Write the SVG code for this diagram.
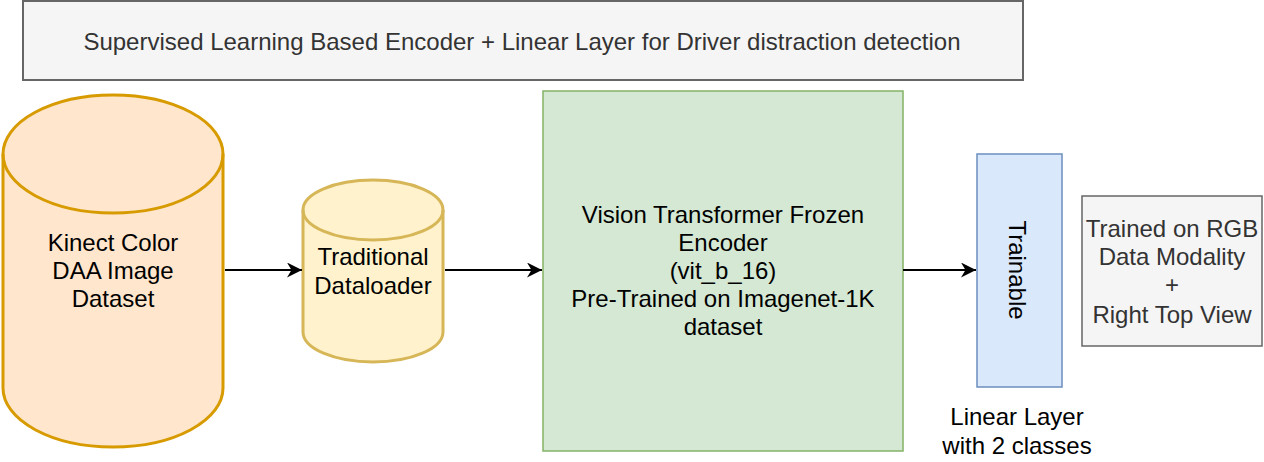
<svg xmlns="http://www.w3.org/2000/svg" width="1264" height="462" viewBox="0 0 1264 462">
<style>
text{font-family:"Liberation Sans",Arial,sans-serif;font-size:24px;text-anchor:middle;dominant-baseline:central}
.dk{fill:#000}
.gr{fill:#333}
.edge{stroke:#000;stroke-width:2;fill:none}
</style>
<defs>
<marker id="arr" viewBox="0 0 10 10" refX="10" refY="5" markerWidth="17" markerHeight="15" markerUnits="userSpaceOnUse" orient="auto">
<path d="M0,0 L10,5 L0,10 L3,5 Z" fill="#000"/>
</marker>
</defs>
<g id="title">
<rect x="23" y="1" width="1000" height="79" fill="#f5f5f5" stroke="#666" stroke-width="2"/>
<text x="522" y="41" class="gr">Supervised Learning Based Encoder + Linear Layer for Driver distraction detection</text>
</g>
<g id="dataset">
<path d="M3,154 A110,59 0 0 1 223,154 L223,388 A110,59 0 0 1 3,388 Z" fill="#ffe6cc" stroke="#d79b00" stroke-width="3"/>
<path d="M3,154 A110,59 0 0 0 223,154" fill="none" stroke="#d79b00" stroke-width="3"/>
<text x="113" y="242" class="dk">Kinect Color</text>
<text x="113" y="270" class="dk">DAA Image</text>
<text x="113" y="298" class="dk">Dataset</text>
</g>
<g id="dataloader">
<path d="M303,210 A70,30 0 0 1 443,210 L443,332 A70,30 0 0 1 303,332 Z" fill="#fff2cc" stroke="#d6b656" stroke-width="3"/>
<path d="M303,210 A70,30 0 0 0 443,210" fill="none" stroke="#d6b656" stroke-width="3"/>
<text x="373" y="256" class="dk">Traditional</text>
<text x="373" y="285" class="dk">Dataloader</text>
</g>
<g id="encoder">
<rect x="543" y="91" width="360" height="360" fill="#d5e8d4" stroke="#82b366" stroke-width="1.5"/>
<text x="723" y="214" class="dk">Vision Transformer Frozen</text>
<text x="723" y="242" class="dk">Encoder</text>
<text x="723" y="270" class="dk">(vit_b_16)</text>
<text x="723" y="298" class="dk">Pre-Trained on Imagenet-1K</text>
<text x="723" y="326" class="dk">dataset</text>
</g>
<g id="linear">
<rect x="977" y="154" width="85" height="233" fill="#dae8fc" stroke="#6c8ebf" stroke-width="1.5"/>
<text x="0" y="0" class="dk" transform="translate(1017,270) rotate(90)">Trainable</text>
</g>
<g id="linear-label">
<text x="1017" y="416" class="dk">Linear Layer</text>
<text x="1017" y="445" class="dk">with 2 classes</text>
</g>
<g id="note">
<rect x="1082" y="196" width="180" height="150" fill="#f5f5f5" stroke="#666" stroke-width="1.5"/>
<text x="1172" y="228" class="gr">Trained on RGB</text>
<text x="1172" y="256" class="gr">Data Modality</text>
<text x="1172" y="284" class="gr">+</text>
<text x="1172" y="314" class="gr">Right Top View</text>
</g>
<g id="connectors">
<line x1="225" y1="270" x2="302" y2="270" class="edge" marker-end="url(#arr)"/>
<line x1="445" y1="270" x2="542" y2="270" class="edge" marker-end="url(#arr)"/>
<line x1="903" y1="270" x2="976" y2="270" class="edge" marker-end="url(#arr)"/>
</g>
</svg>
